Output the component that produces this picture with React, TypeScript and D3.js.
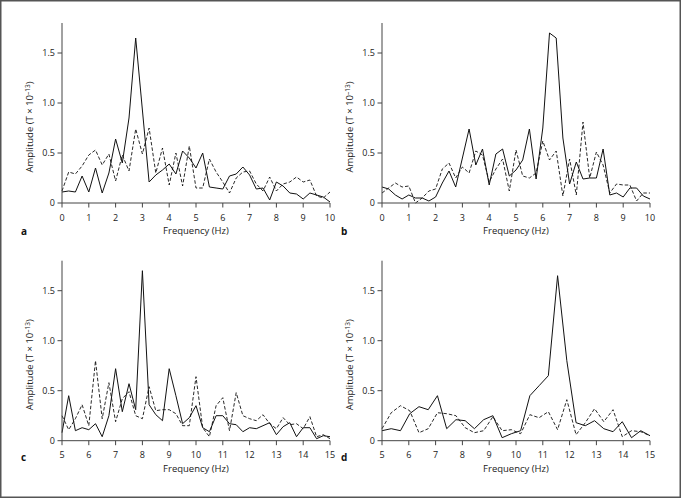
import React from "react";
import * as d3 from "d3";

const stepAB = 0.25;
const stepD = 10 / 29;

const aSolid = [0.11,0.12,0.11,0.27,0.11,0.35,0.10,0.30,0.64,0.40,0.85,1.65,0.93,0.21,0.28,0.33,0.39,0.29,0.52,0.45,0.35,0.50,0.16,0.15,0.14,0.27,0.29,0.36,0.28,0.14,0.15,0.03,0.21,0.17,0.10,0.09,0.04,0.10,0.08,0.06,0.01];
const aDashed = [0.12,0.31,0.29,0.37,0.48,0.53,0.38,0.49,0.22,0.48,0.32,0.74,0.49,0.75,0.30,0.55,0.18,0.50,0.17,0.57,0.15,0.15,0.44,0.31,0.21,0.10,0.25,0.31,0.32,0.19,0.12,0.26,0.12,0.19,0.21,0.26,0.21,0.23,0.07,0.05,0.11];
const bSolid = [0.16,0.14,0.08,0.04,0.08,0.05,0.05,0.02,0.06,0.20,0.32,0.16,0.45,0.74,0.38,0.54,0.18,0.49,0.54,0.27,0.33,0.43,0.74,0.24,0.75,1.70,1.65,0.65,0.19,0.41,0.24,0.25,0.25,0.54,0.08,0.10,0.06,0.15,0.15,0.07,0.04];
const bDashed = [0.10,0.15,0.20,0.16,0.17,0.00,0.05,0.12,0.14,0.34,0.40,0.25,0.36,0.30,0.52,0.48,0.21,0.34,0.44,0.12,0.53,0.27,0.25,0.30,0.62,0.43,0.52,0.07,0.44,0.08,0.81,0.25,0.51,0.38,0.10,0.19,0.18,0.18,0.02,0.10,0.10];
const cSolid = [0.08,0.45,0.10,0.13,0.11,0.17,0.04,0.25,0.72,0.29,0.57,0.31,1.70,0.36,0.26,0.20,0.72,0.45,0.17,0.23,0.35,0.13,0.09,0.25,0.25,0.17,0.16,0.09,0.13,0.12,0.15,0.18,0.06,0.14,0.18,0.04,0.13,0.13,0.02,0.05,0.04];
const cDashed = [0.25,0.11,0.22,0.36,0.15,0.80,0.22,0.58,0.19,0.42,0.49,0.25,0.22,0.54,0.30,0.31,0.31,0.27,0.15,0.15,0.64,0.13,0.04,0.35,0.43,0.10,0.48,0.25,0.22,0.20,0.26,0.17,0.12,0.23,0.16,0.17,0.12,0.24,0.04,0.06,0.02];
const dSolid = [0.10,0.12,0.10,0.27,0.34,0.31,0.45,0.12,0.21,0.20,0.12,0.21,0.25,0.03,0.07,0.10,0.45,0.55,0.65,1.65,0.80,0.18,0.15,0.20,0.12,0.09,0.19,0.03,0.10,0.05];
const dDashed = [0.12,0.28,0.35,0.30,0.08,0.12,0.28,0.27,0.25,0.13,0.08,0.10,0.24,0.10,0.11,0.07,0.26,0.23,0.29,0.11,0.41,0.06,0.18,0.32,0.19,0.31,0.04,0.10,0.09,0.05];

const xTicksLow = [0,1,2,3,4,5,6,7,8,9,10];
const xTicksHigh = [5,6,7,8,9,10,11,12,13,14,15];
const yTicks = [0, 0.5, 1.0, 1.5];
const yTickLabels = ["0", "0.5", "1.0", "1.5"];
const panelLetters = ["a", "b", "c", "d"];

const FONT = "'Open Sans', 'Noto Sans', sans-serif";

type PanelProps = {
  letter: string;
  x0: number;
  y0: number;
  domain: [number, number];
  ticks: number[];
  start: number;
  step: number;
  solid: number[];
  dashed: number[];
  letterDy: number;
};

function Panel({ letter, x0, y0, domain, ticks, start, step, solid, dashed, letterDy }: PanelProps) {
  const x = d3.scaleLinear().domain(domain).range([x0, x0 + 268]);
  const y = d3.scaleLinear().domain([0, 1.8]).range([y0, y0 - 180]);
  const line = d3
    .line<number>()
    .x((_, i) => x(start + i * step))
    .y((v) => y(v));
  const axisColor = "#444";
  return (
    <g>
      <path d={line(dashed) || ""} fill="none" stroke="#111" strokeWidth={0.9} strokeDasharray="3.5,2" />
      <path d={line(solid) || ""} fill="none" stroke="#111" strokeWidth={1} />
      <line x1={x0} x2={x0} y1={y(0)} y2={y(1.8)} stroke={axisColor} strokeWidth={1} />
      <line x1={x0} x2={x(domain[1])} y1={y0} y2={y0} stroke={axisColor} strokeWidth={1} />
      {yTicks.map((t, i) => (
        <g key={"y" + i}>
          <line x1={x0 - 4.5} x2={x0} y1={y(t)} y2={y(t)} stroke={axisColor} strokeWidth={1} />
          <text x={x0 - 7} y={y(t) + 3.2} textAnchor="end" fontSize={9} fontFamily={FONT} fill="#222">
            {yTickLabels[i]}
          </text>
        </g>
      ))}
      {ticks.map((t) => (
        <g key={"x" + t}>
          <line x1={x(t)} x2={x(t)} y1={y0} y2={y0 + 4.5} stroke={axisColor} strokeWidth={1} />
          <text x={x(t)} y={y0 + 17.5} textAnchor="middle" fontSize={9} fontFamily={FONT} fill="#222">
            {t}
          </text>
        </g>
      ))}
      <text x={x0 + 134} y={y0 + 31} textAnchor="middle" fontSize={9.5} fontFamily={FONT} fill="#222">
        Frequency (Hz)
      </text>
      <text
        transform={`translate(${x0 - 29},${y0 - 76}) rotate(-90)`}
        textAnchor="middle"
        fontSize={9.5}
        fontFamily={FONT}
        fill="#222"
      >
        Amplitude (T × 10
        <tspan dy={-3.5} fontSize={6.5}>–13</tspan>
        <tspan dy={3.5}>)</tspan>
      </text>
      <text x={x0 - 41} y={y0 + letterDy} fontSize={10} fontWeight="bold" fontFamily={FONT} fill="#111">
        {letter}
      </text>
    </g>
  );
}

export default function App() {
  return (
    <svg width={681} height={498} style={{ position: "absolute", left: 0, top: 0, background: "#fff" }}>
      <rect x={0.75} y={0.75} width={679.5} height={496.5} fill="#fff" stroke="#555" strokeWidth={1.5} />
      <Panel letter={panelLetters[0]} x0={62} y0={203} domain={[0, 10]} ticks={xTicksLow} start={0} step={stepAB} solid={aSolid} dashed={aDashed} letterDy={31.5} />
      <Panel letter={panelLetters[1]} x0={382} y0={203} domain={[0, 10]} ticks={xTicksLow} start={0} step={stepAB} solid={bSolid} dashed={bDashed} letterDy={31.5} />
      <Panel letter={panelLetters[2]} x0={62} y0={440.7} domain={[5, 15]} ticks={xTicksHigh} start={5} step={stepAB} solid={cSolid} dashed={cDashed} letterDy={20.5} />
      <Panel letter={panelLetters[3]} x0={382} y0={440.7} domain={[5, 15]} ticks={xTicksHigh} start={5} step={stepD} solid={dSolid} dashed={dDashed} letterDy={20.5} />
    </svg>
  );
}
